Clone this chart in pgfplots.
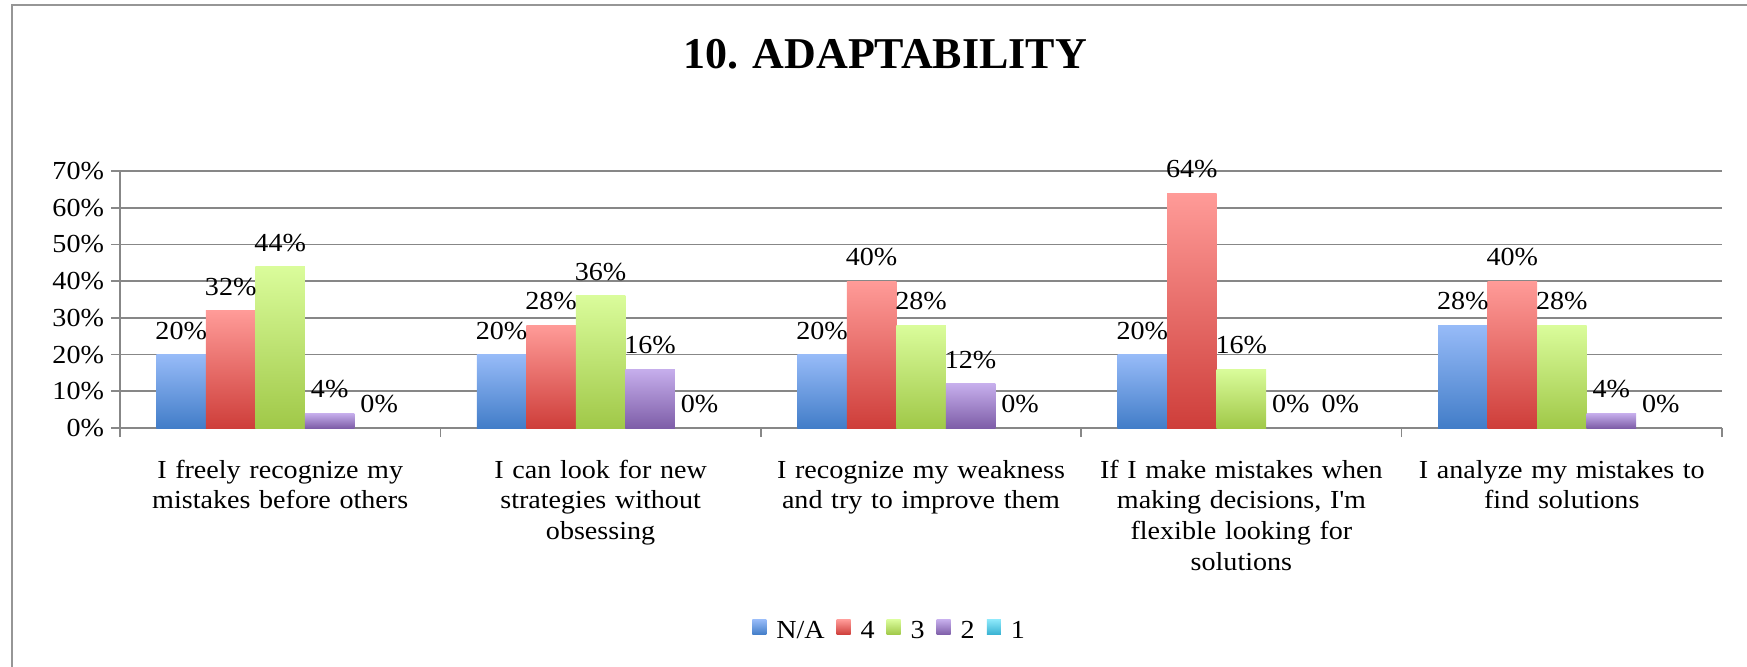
\documentclass[border=0pt]{standalone}
\usepackage{fontspec}
\setmainfont[FakeStretch=1.08]{Liberation Serif}
\newfontfamily\titlefont{Liberation Serif}
\usepackage{pgfplots}
\usepackage{pgfplotstable}
\pgfplotsset{compat=1.18}

\definecolor{gridgray}{RGB}{135,135,135}
\definecolor{framegray}{RGB}{150,150,150}
\definecolor{natop}{RGB}{151,187,248}
\definecolor{nabot}{RGB}{66,125,200}
\definecolor{ftop}{RGB}{255,155,152}
\definecolor{fbot}{RGB}{206,62,58}
\definecolor{ttop}{RGB}{218,252,155}
\definecolor{tbot}{RGB}{160,200,72}
\definecolor{wtop}{RGB}{198,174,236}
\definecolor{wbot}{RGB}{126,94,168}
\definecolor{otop}{RGB}{140,232,250}
\definecolor{obot}{RGB}{56,178,210}

\newcommand{\lblfont}{\fontsize{13}{15.3}\selectfont}

\pgfplotstableread{
cat na four three two one
0   20 32   44    4   0
1   20 28   36    16  0
2   20 40   28    12  0
3   20 64   16    0   0
4   28 40   28    4   0
}\datatable

\begin{document}
\begin{tikzpicture}
\useasboundingbox (0,0) rectangle (873.5pt,333pt);
\draw[color=framegray, line width=1pt] (6pt,-5pt) -- (6pt,330.5pt) -- (880pt,330.5pt);
\begin{axis}[
  at={(60pt,119pt)}, anchor=south west,
  scale only axis, width=801pt, height=128.5pt,
  xmin=-0.5, xmax=4.5, ymin=0, ymax=70,
  axis x line*=bottom, axis y line*=left,
  axis line style={draw=gridgray, line width=0.8pt},
  ytick={0,10,...,70},
  yticklabels={0\%,10\%,20\%,30\%,40\%,50\%,60\%,70\%},
  ymajorgrids, grid style={gridgray, line width=0.8pt},
  major tick length=4.5pt, minor tick length=4.5pt,
  tick align=outside,
  tick style={gridgray, line width=0.8pt},
  xtick={0,1,2,3,4},
  minor xtick={-0.5,0.5,1.5,2.5,3.5,4.5},
  major x tick style={draw=none},
  xticklabels={
    {I freely recognize my\\mistakes before others},
    {I can look for new\\strategies without\\obsessing},
    {I recognize my weakness\\and try to improve them},
    {If I make mistakes when\\making decisions, I\textquotesingle m\\flexible looking for\\solutions},
    {I analyze my mistakes to\\find solutions}},
  xticklabel style={font=\lblfont, text width=170pt, align=center, anchor=north, yshift=-8pt},
  yticklabel style={font=\lblfont},
  nodes near coords={\pgfmathprintnumber[assume math mode=true,fixed,precision=0]{\pgfplotspointmeta}\%},
  nodes near coords align=vertical,
  every node near coord/.append style={font=\lblfont, black, yshift=4pt},
  legend columns=5,
  legend style={at={(0.481,-0.79)}, anchor=center, draw=none, font=\lblfont,
    /tikz/every even column/.append style={column sep=4pt},
    /tikz/every odd column/.append style={column sep=3pt}},
  legend image code/.code={\path[#1, draw=none] (0pt,-1.8pt) rectangle (7pt,5.7pt);},
  title={10. ADAPTABILITY},
  title style={at={(0.4775,1.408)}, anchor=center, yshift=0pt, font=\titlefont\bfseries\fontsize{22}{26}\selectfont},
  bs/.style={forget plot, ybar, bar width=24.75pt, draw=none, bar shift=#1,
    every node near coord/.append style={xshift=#1}},
]
\addlegendimage{top color=natop, bottom color=nabot}
\addlegendimage{top color=ftop, bottom color=fbot}
\addlegendimage{top color=ttop, bottom color=tbot}
\addlegendimage{top color=wtop, bottom color=wbot}
\addlegendimage{top color=otop, bottom color=obot}
\pgfplotsinvokeforeach{0,1,2,3,4}{
\addplot[bs=-49.5pt, top color=natop, bottom color=nabot, restrict x to domain=#1:#1] table[x=cat, y=na] {\datatable};
\addplot[bs=-24.75pt, top color=ftop, bottom color=fbot, restrict x to domain=#1:#1] table[x=cat, y=four] {\datatable};
\addplot[bs=0pt, top color=ttop, bottom color=tbot, restrict x to domain=#1:#1] table[x=cat, y=three] {\datatable};
\addplot[bs=24.75pt, top color=wtop, bottom color=wbot, restrict x to domain=#1:#1] table[x=cat, y=two] {\datatable};
\addplot[bs=49.5pt, top color=otop, bottom color=obot, restrict x to domain=#1:#1] table[x=cat, y=one] {\datatable};
}
\legend{N/A,4,3,2,1}
\end{axis}
\end{tikzpicture}
\end{document}
